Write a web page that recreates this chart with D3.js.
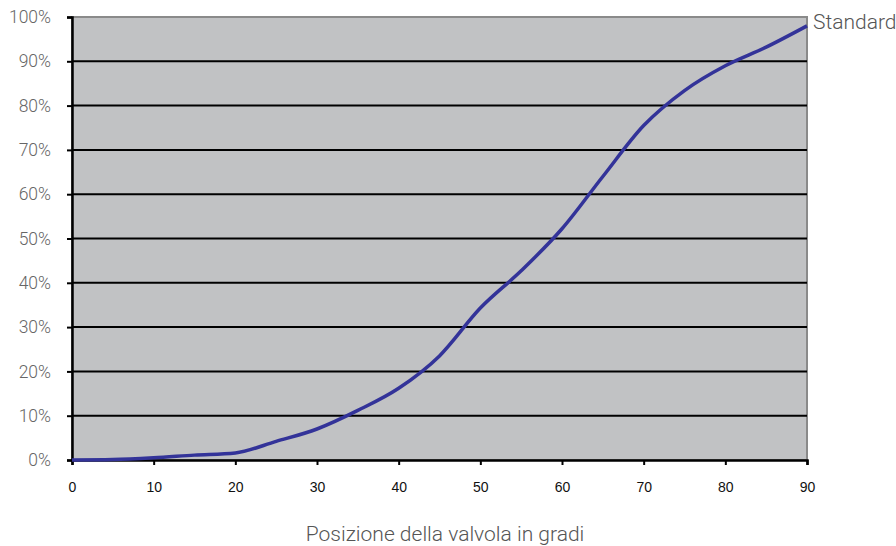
<!DOCTYPE html>
<html>
<head>
<meta charset="utf-8">
<script src="https://cdn.jsdelivr.net/npm/d3@7"></script>
<style>
  body { margin: 0; background: #fff; }
  svg { display: block; }
</style>
</head>
<body>
<div id="chart"></div>
<script>
// valve position (degrees) vs flow percentage
const degrees = [0, 5, 10, 15, 20, 25, 30, 35, 40, 45, 50, 55, 60, 65, 70, 75, 80, 85, 90];
const standard = [0, 0.1, 0.5, 1.1, 1.6, 4.2, 7.0, 11.2, 16.2, 23.5, 34.3, 42.7, 52.2, 64, 75.5, 83.4, 89, 93.2, 98];
const xTicks = [0, 10, 20, 30, 40, 50, 60, 70, 80, 90];
const yTicks = [0, 10, 20, 30, 40, 50, 60, 70, 80, 90, 100];

const width = 896, height = 546;
const margin = { top: 17, right: 89, bottom: 86, left: 72 };

const svg = d3.select('#chart')
    .append('svg')
    .attr('width', width)
    .attr('height', height);

const x = d3.scaleLinear()
    .domain([0, 90])
    .range([margin.left, width - margin.right]);

const y = d3.scaleLinear()
    .domain([0, 100])
    .range([height - margin.bottom, margin.top]);

// plot background
svg.append('rect')
    .attr('x', x(0))
    .attr('y', y(100))
    .attr('width', x(90) - x(0))
    .attr('height', y(0) - y(100))
    .attr('fill', '#c1c2c4')
    .attr('stroke', '#8a8a8a')
    .attr('stroke-width', 2);

// horizontal grid lines
svg.append('g')
    .selectAll('line')
    .data(yTicks.filter(d => d > 0 && d < 100))
    .join('line')
    .attr('x1', x(0))
    .attr('x2', x(90))
    .attr('y1', d => y(d))
    .attr('y2', d => y(d))
    .attr('stroke', '#000')
    .attr('stroke-width', 2);

// y axis
const yAxis = svg.append('g')
    .attr('transform', `translate(${x(0)},0)`)
    .call(d3.axisLeft(y).tickValues(yTicks).tickSize(5).tickPadding(16).tickFormat(d => d + '%'));
yAxis.select('.domain').attr('stroke', '#000').attr('stroke-width', 2.5);
yAxis.selectAll('.tick line').attr('stroke', '#000').attr('stroke-width', 2);
yAxis.selectAll('text')
    .attr('fill', '#666')
    .attr('font-family', 'Roboto')
    .attr('font-weight', 300)
    .attr('font-size', 17.5);

// x axis
const xAxis = svg.append('g')
    .attr('transform', `translate(0,${y(0)})`)
    .call(d3.axisBottom(x).tickValues(xTicks).tickSize(5).tickPadding(17));
xAxis.select('.domain').attr('stroke', '#000').attr('stroke-width', 2.5);
xAxis.selectAll('.tick line').attr('stroke', '#000').attr('stroke-width', 2);
xAxis.selectAll('text')
    .attr('fill', '#111')
    .attr('font-family', 'Liberation Sans')
    .attr('font-size', 14);

// data line
const line = d3.line()
    .x((d, i) => x(degrees[i]))
    .y(d => y(d))
    .curve(d3.curveMonotoneX);

svg.append('path')
    .datum(standard)
    .attr('d', line)
    .attr('fill', 'none')
    .attr('stroke', '#333399')
    .attr('stroke-width', 3.5);

// legend
svg.append('text')
    .attr('x', 813)
    .attr('y', 29)
    .attr('fill', '#555')
    .attr('font-family', 'Roboto')
    .attr('font-weight', 300)
    .attr('font-size', 21)
    .text('Standard');

// axis title
svg.append('text')
    .attr('x', 445)
    .attr('y', 541)
    .attr('text-anchor', 'middle')
    .attr('fill', '#555')
    .attr('font-family', 'Roboto')
    .attr('font-weight', 300)
    .attr('font-size', 21)
    .text('Posizione della valvola in gradi');
</script>
</body>
</html>
